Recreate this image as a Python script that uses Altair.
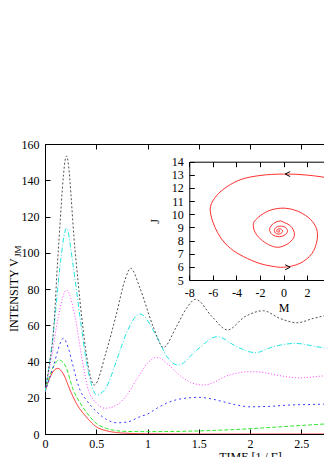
import altair as alt
import pandas as pd

FONT = "Liberation Serif"

# ---------------- main panel data (time, intensity) ----------------
series_names = ["c1", "c2", "c3", "c4", "c5", "c6"]
series_colors = ["#ff2a2a", "#30e830", "#3a3aff", "#ff40ff", "#20e4e4", "#505050"]
series_dashes = [[1, 0], [4, 2], [2, 3], [1, 2], [5, 2, 1, 2], [2, 2]]

t_red = [0, 0.04, 0.08, 0.124, 0.18, 0.244, 0.3, 0.4, 0.5, 0.6, 0.7, 0.85, 1.0, 1.5, 2.0, 2.5, 3.0, 3.5, 4.0]
v_red = [23.3, 30.0, 34.5, 36.2, 33.0, 24.3, 17.5, 9.6, 4.0, 1.8, 0.8, 0.3, 0.1, 0.0, 0.0, 0.0, 0.0, 0.0, 0.0]

t_green = [0, 0.04, 0.09, 0.137, 0.2, 0.276, 0.35, 0.4, 0.5, 0.6, 0.7, 0.8, 1.0, 1.25, 1.5, 1.75, 2.0, 2.25, 2.5, 2.75, 3.0, 3.5, 4.0]
v_green = [23.3, 31.0, 38.0, 40.8, 37.5, 24.3, 16.5, 12.3, 5.9, 3.1, 1.8, 1.4, 1.3, 1.4, 1.7, 2.2, 2.9, 3.8, 4.7, 5.6, 6.3, 7.2, 7.8]

t_blue = [0, 0.04, 0.081, 0.13, 0.179, 0.23, 0.276, 0.341, 0.4, 0.5, 0.6, 0.7, 0.8, 0.93, 1.0, 1.1, 1.22, 1.35, 1.5, 1.62, 1.74, 1.87, 2.0, 2.2, 2.39, 2.6, 2.8, 3.0, 3.5, 4.0]
v_blue = [23.3, 30.0, 37.0, 47.0, 52.8, 47.0, 37.0, 24.3, 19.0, 12.5, 8.0, 6.2, 6.6, 9.6, 11.0, 14.5, 17.8, 19.6, 20.2, 19.4, 17.8, 16.0, 15.0, 15.3, 16.0, 16.3, 16.5, 16.4, 16.2, 16.2]

t_mag = [0, 0.065, 0.13, 0.21, 0.293, 0.358, 0.423, 0.5, 0.585, 0.7, 0.8, 0.9, 1.0, 1.09, 1.2, 1.3, 1.42, 1.545, 1.65, 1.75, 1.87, 2.0, 2.12, 2.25, 2.37, 2.49, 2.65, 2.8, 3.0, 3.5, 4.0]
v_mag = [23.3, 42.6, 64.7, 79.4, 64.7, 42.6, 24.3, 17.2, 14.2, 16.0, 21.5, 30.7, 39.0, 42.3, 38.5, 33.0, 28.5, 27.0, 28.5, 31.6, 33.5, 34.4, 34.0, 32.6, 31.5, 31.0, 31.7, 32.5, 33.0, 32.3, 32.5]

t_cyan = [0, 0.049, 0.098, 0.146, 0.21, 0.276, 0.341, 0.407, 0.45, 0.504, 0.6, 0.7, 0.8, 0.927, 1.09, 1.19, 1.3, 1.48, 1.68, 1.87, 2.05, 2.23, 2.44, 2.65, 2.8, 3.0, 3.5, 4.0]
v_cyan = [23.3, 40.8, 64.7, 92.3, 113.5, 92.3, 64.7, 39.0, 28.0, 21.5, 26.0, 40.8, 56.4, 66.2, 53.7, 42.7, 38.0, 46.3, 53.7, 48.2, 44.9, 48.2, 50.0, 48.2, 46.9, 47.5, 48.5, 48.0]

t_gray = [0, 0.039, 0.081, 0.13, 0.21, 0.293, 0.358, 0.407, 0.48, 0.6, 0.7, 0.78, 0.836, 0.927, 1.057, 1.155, 1.28, 1.38, 1.47, 1.63, 1.78, 1.95, 2.13, 2.29, 2.46, 2.62, 2.8, 3.0, 3.5, 4.0]
v_gray = [23.3, 37.0, 55.5, 101.5, 153.4, 101.5, 64.7, 42.6, 27.0, 46.0, 67.0, 85.0, 91.4, 80.4, 59.0, 47.8, 59.0, 69.3, 74.3, 64.7, 57.4, 64.7, 68.0, 63.8, 61.4, 63.8, 65.7, 65.0, 64.0, 64.5]

x_ticks = [0, 0.5, 1, 1.5, 2, 2.5, 3, 3.5, 4]
x_labels = [0, 0.5, 1, 1.5, 2, 2.5]          # the rest lie beyond the visible edge
y_ticks = [0, 20, 40, 60, 80, 100, 120, 140, 160]
x_title = "TIME [1 / Γ]"
y_title = "INTENSITY V"
y_title_sub = "JM"

# ---------------- inset data (phase portrait M vs J) ----------------
inset_M = [5.6, 4.15, 2.0, 0.0, -2.0, -3.6, -4.8, -5.7, -6.2, -6.1, -5.4, -4.5, -3.4, -2.0, -1.0, 0.0,
           1.4, 2.42, 2.85, 2.8, 2.3, 1.4, 0.5, -0.3, -1.3, -2.1, -2.56, -2.4, -1.8, -1.1, -0.43,
           0.35, 0.85, 0.91, 0.6, 0.0, -0.28, -0.85, -1.19, -0.95, -0.34, 0.15, 0.34, 0.15, -0.3,
           -0.7, -0.78, -0.55, -0.2, -0.08, -0.3, -0.58, -0.52, -0.32, -0.36, -0.42, -0.4]
inset_J = [12.0, 12.66, 12.98, 13.06, 12.95, 12.65, 12.1, 11.4, 10.6, 9.7, 8.3, 7.4, 6.78, 6.25, 6.05, 5.97,
           6.27, 7.03, 8.05, 8.9, 9.6, 10.15, 10.42, 10.46, 10.25, 9.8, 9.3, 8.6, 8.0, 7.62, 7.49,
           7.75, 8.2, 8.6, 9.1, 9.4, 9.49, 9.3, 8.86, 8.45, 8.3, 8.45, 8.75, 9.0, 9.1,
           8.95, 8.7, 8.5, 8.55, 8.75, 8.9, 8.8, 8.65, 8.68, 8.78, 8.74, 8.75]
arrow_M = [0.35, 0.35]
arrow_J = [13.06, 5.97]
arrow_dir = ["left", "right"]
inset_x_ticks = [-8, -6, -4, -2, 0, 2, 4, 6, 8]
inset_x_labels = [-8, -6, -4, -2, 0, 2]
inset_y_ticks = [5, 6, 7, 8, 9, 10, 11, 12, 13, 14]
inset_x_title = "M"
inset_y_title = "J"

# ---------------- tables ----------------
rows = []
for name, ts, vs in zip(series_names,
                        [t_red, t_green, t_blue, t_mag, t_cyan, t_gray],
                        [v_red, v_green, v_blue, v_mag, v_cyan, v_gray]):
    for t, v in zip(ts, vs):
        rows.append({"series": name, "t": t, "v": v})
main_df = pd.DataFrame(rows)
inset_df = pd.DataFrame({"M": inset_M, "J": inset_J, "k": list(range(len(inset_M)))})
arrow_df = pd.DataFrame({"M": arrow_M, "J": arrow_J, "dir": arrow_dir})

# plot area 410x290 starting at page (45,144); the svg (316x449) crops it on the right
W, H = 410, 290
PAD = {"left": 37, "top": 136, "right": 316 - 37 - W, "bottom": 449 - 136 - H}
main_x = alt.Scale(domain=[0, 4], nice=False, zero=False)
main_y = alt.Scale(domain=[0, 160], nice=False, zero=False)
ins_left, ins_right, ins_bottom, ins_top = 144.3, 332.8, 136.0, 17.7
ins_x = alt.Scale(domain=[-8, 8], range=[ins_left, ins_right], nice=False, zero=False)
ins_y = alt.Scale(domain=[5, 14], range=[ins_bottom, ins_top], nice=False, zero=False)

num_expr = "datum.value < 0 ? '-' + abs(datum.value) : '' + datum.value"


def tick_axis(values, channel, scale, orient, offset, domain=False):
    df = pd.DataFrame({"val": values})
    ax = alt.Axis(orient=orient, offset=offset, values=values, labels=False,
                  domain=domain, ticks=True, tickSize=5, title=None, grid=False)
    base = alt.Chart(df).mark_rule(strokeOpacity=0)
    if channel == "x":
        return base.encode(x=alt.X("val:Q", scale=scale, axis=ax))
    return base.encode(y=alt.Y("val:Q", scale=scale, axis=ax))


lines = alt.Chart(main_df).mark_line(strokeWidth=1, interpolate="monotone", clip=True).encode(
    x=alt.X("t:Q", scale=main_x,
            axis=alt.Axis(orient="bottom", values=x_labels, ticks=False, domain=False,
                          labelExpr=num_expr, labelPadding=4, labelFlush=False,
                          title=x_title, titleBaseline="top", titleY=17, grid=False)),
    y=alt.Y("v:Q", scale=main_y,
            axis=alt.Axis(orient="left", values=y_ticks, ticks=False, domain=False,
                          labelPadding=6, title=None, grid=False)),
    color=alt.Color("series:N", scale=alt.Scale(domain=series_names, range=series_colors), legend=None),
    strokeDash=alt.StrokeDash("series:N", scale=alt.Scale(domain=series_names, range=series_dashes), legend=None),
)

main_ticks = [
    tick_axis(x_ticks, "x", main_x, "top", -H),      # bottom edge, inward
    tick_axis(x_ticks, "x", main_x, "bottom", -H),   # top edge, inward
    tick_axis(y_ticks, "y", main_y, "right", -W),    # left edge, inward
    tick_axis(y_ticks, "y", main_y, "left", -W),     # right edge, inward
]

inset_line = alt.Chart(inset_df).mark_line(color="#ff3030", strokeWidth=1, interpolate="catmull-rom").encode(
    x=alt.X("M:Q", scale=ins_x,
            axis=alt.Axis(orient="bottom", offset=ins_bottom - H, values=inset_x_labels, ticks=False,
                          domain=True, labelExpr=num_expr, labelPadding=7, labelFlush=False,
                          title=inset_x_title, titlePadding=4, grid=False)),
    y=alt.Y("J:Q", scale=ins_y,
            axis=alt.Axis(orient="left", offset=-ins_left, values=inset_y_ticks, ticks=False,
                          domain=True, labelPadding=6, title=inset_y_title, titlePadding=10, grid=False)),
    order="k:Q",
)

inset_ticks = [
    tick_axis(inset_x_ticks, "x", ins_x, "top", -ins_bottom),
    tick_axis(inset_x_ticks, "x", ins_x, "bottom", ins_top - H, domain=True),
    tick_axis(inset_y_ticks, "y", ins_y, "right", ins_left - W),
    tick_axis(inset_y_ticks, "y", ins_y, "left", -ins_right, domain=True),
]

arrows = alt.Chart(arrow_df).mark_point(filled=False, stroke="black", strokeWidth=1, size=25, opacity=1).encode(
    x=alt.X("M:Q", scale=ins_x, axis=None),
    y=alt.Y("J:Q", scale=ins_y, axis=None),
    shape=alt.Shape("dir:N", scale=alt.Scale(domain=["left", "right"],
                                             range=["M1,-1L-1,0L1,1", "M-1,-1L1,0L-1,1"]), legend=None),
)

ytitle = alt.Chart(pd.DataFrame({"label": [y_title]})).mark_text(
    angle=270, align="left", baseline="alphabetic", font=FONT, fontSize=12, color="black"
).encode(text="label:N", x=alt.value(-27), y=alt.value(188))

ysub = alt.Chart(pd.DataFrame({"label": [y_title_sub]})).mark_text(
    angle=270, align="left", baseline="alphabetic", font=FONT, fontSize=9, color="black"
).encode(text="label:N", x=alt.value(-24), y=alt.value(113))

chart = alt.layer(
    lines, *main_ticks, inset_line, *inset_ticks, arrows, ytitle, ysub
).resolve_scale(
    x="independent", y="independent"
).resolve_axis(
    x="independent", y="independent"
).properties(
    width=W, height=H,
    padding=PAD,
    autosize=alt.AutoSizeParams(type="none"),
).configure_view(
    stroke="black", strokeWidth=1
).configure_axis(
    labelFont=FONT, titleFont=FONT, labelFontSize=12, titleFontSize=12,
    labelColor="black", titleColor="black", titleFontWeight="normal",
    domainColor="black", tickColor="black", domainWidth=1, tickWidth=1,
)

chart.save("out.html", embed_options={"renderer": "svg", "actions": False})
